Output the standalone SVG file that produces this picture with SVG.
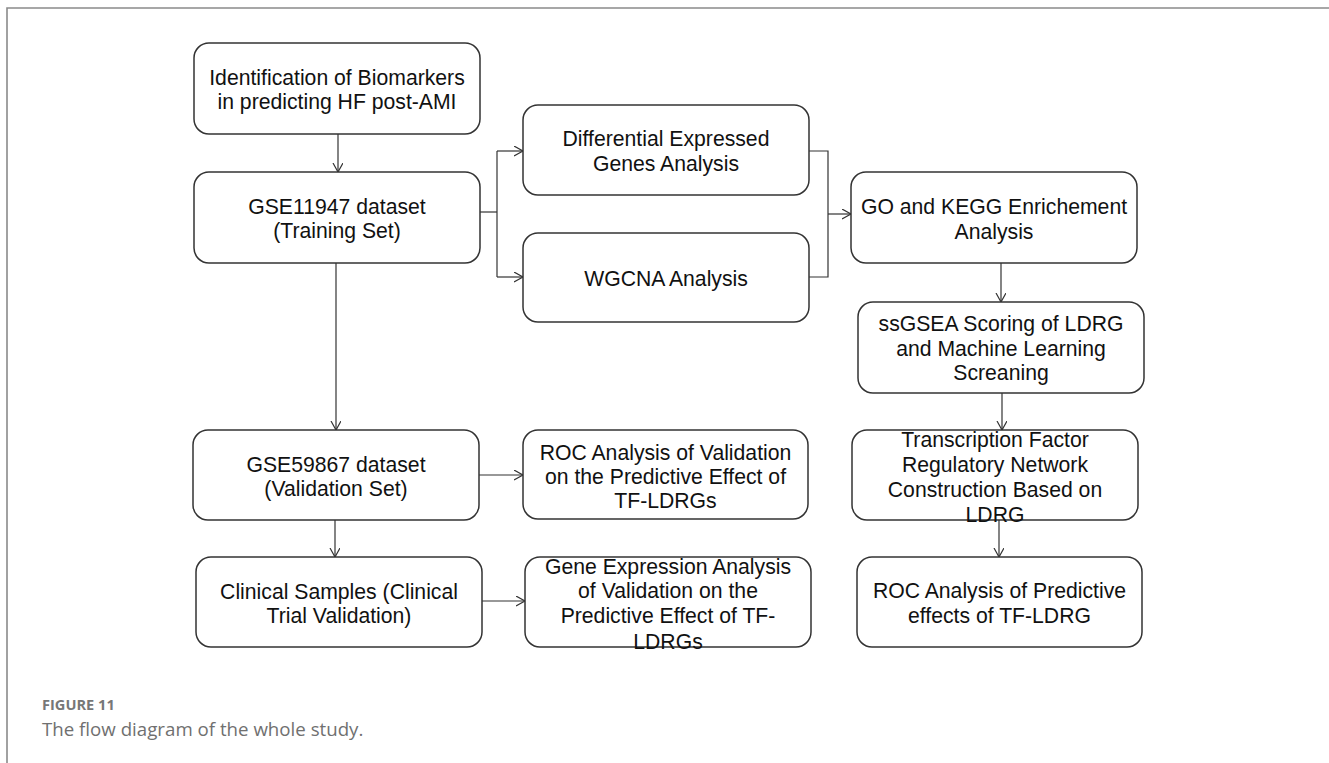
<svg xmlns="http://www.w3.org/2000/svg" width="1329" height="763" viewBox="0 0 1329 763">
  <defs>
    <marker id="arr" markerUnits="userSpaceOnUse" markerWidth="12" markerHeight="12" refX="9" refY="5" orient="auto" viewBox="0 0 12 12">
      <path d="M0,0 L9,5 L0,10" fill="none" stroke="#333" stroke-width="1.2"/>
    </marker>
  </defs>
  <style>
    .box { fill: #fff; stroke: #333; stroke-width: 1.5; }
    .t { font-family: "Liberation Sans", Arial, sans-serif; font-size: 21.2px; fill: #111; text-anchor: middle; }
    .c { fill: none; stroke: #333; stroke-width: 1.2; }
    .frame { stroke: #8a8a8a; stroke-width: 1.6; fill: none; }
    .figlab { font-family: "Open Sans", "Liberation Sans", sans-serif; font-size: 14.6px; font-weight: bold; fill: #777; }
    .cap { font-family: "Open Sans", "Liberation Sans", sans-serif; font-size: 18.7px; fill: #707070; }
  </style>
  <rect width="1329" height="763" fill="#fff"/>
  <path class="frame" d="M7,763 V8 H1329"/>

  <g id="connectors">
    <line class="c" x1="338" y1="134" x2="338" y2="172" marker-end="url(#arr)"/>
    <path class="c" d="M480,212 H497"/>
    <path class="c" d="M497,151 V277"/>
    <line class="c" x1="497" y1="151" x2="523" y2="151" marker-end="url(#arr)"/>
    <line class="c" x1="497" y1="277" x2="523" y2="277" marker-end="url(#arr)"/>
    <path class="c" d="M809,151 H828 V277 H809"/>
    <line class="c" x1="828" y1="214" x2="851" y2="214" marker-end="url(#arr)"/>
    <line class="c" x1="1001" y1="263" x2="1001" y2="302" marker-end="url(#arr)"/>
    <line class="c" x1="1002" y1="393" x2="1002" y2="430" marker-end="url(#arr)"/>
    <line class="c" x1="999" y1="520" x2="999" y2="557" marker-end="url(#arr)"/>
    <line class="c" x1="336" y1="263" x2="336" y2="430" marker-end="url(#arr)"/>
    <line class="c" x1="479" y1="475" x2="523" y2="475" marker-end="url(#arr)"/>
    <line class="c" x1="335" y1="520" x2="335" y2="557" marker-end="url(#arr)"/>
    <line class="c" x1="482" y1="601" x2="525" y2="601" marker-end="url(#arr)"/>
  </g>

  <g id="nodeA">
    <rect class="box" x="194" y="43" width="286" height="91" rx="15"/>
    <text class="t" x="337" y="84.5">Identification of Biomarkers</text>
    <text class="t" x="337" y="108.5">in predicting HF post-AMI</text>
  </g>
  <g id="nodeB">
    <rect class="box" x="194" y="172" width="286" height="91" rx="15"/>
    <text class="t" x="337" y="214">GSE11947 dataset</text>
    <text class="t" x="337" y="238">(Training Set)</text>
  </g>
  <g id="nodeC">
    <rect class="box" x="523" y="105" width="286" height="90" rx="15"/>
    <text class="t" x="666" y="146">Differential Expressed</text>
    <text class="t" x="666" y="170.5">Genes Analysis</text>
  </g>
  <g id="nodeD">
    <rect class="box" x="523" y="233" width="286" height="89" rx="15"/>
    <text class="t" x="666" y="285.5">WGCNA Analysis</text>
  </g>
  <g id="nodeE">
    <rect class="box" x="851" y="172" width="286" height="91" rx="15"/>
    <text class="t" x="994" y="214">GO and KEGG Enrichement</text>
    <text class="t" x="994" y="238.5">Analysis</text>
  </g>
  <g id="nodeF">
    <rect class="box" x="858" y="302" width="286" height="91" rx="15"/>
    <text class="t" x="1001" y="331">ssGSEA Scoring of LDRG</text>
    <text class="t" x="1001" y="355.5">and Machine Learning</text>
    <text class="t" x="1001" y="380">Screaning</text>
  </g>
  <g id="nodeG">
    <rect class="box" x="852" y="430" width="286" height="90" rx="15"/>
    <text class="t" x="995" y="447">Transcription Factor</text>
    <text class="t" x="995" y="471.5">Regulatory Network</text>
    <text class="t" x="995" y="496.5">Construction Based on</text>
    <text class="t" x="995" y="521.5">LDRG</text>
  </g>
  <g id="nodeH">
    <rect class="box" x="857" y="557" width="285" height="90" rx="15"/>
    <text class="t" x="999.5" y="598">ROC Analysis of Predictive</text>
    <text class="t" x="999.5" y="622.5">effects of TF-LDRG</text>
  </g>
  <g id="nodeI">
    <rect class="box" x="193" y="430" width="286" height="90" rx="15"/>
    <text class="t" x="336" y="471.5">GSE59867 dataset</text>
    <text class="t" x="336" y="496">(Validation Set)</text>
  </g>
  <g id="nodeJ">
    <rect class="box" x="523" y="430" width="285" height="89" rx="15"/>
    <text class="t" x="665.5" y="459.5">ROC Analysis of Validation</text>
    <text class="t" x="665.5" y="483.5">on the Predictive Effect of</text>
    <text class="t" x="665.5" y="507.5">TF-LDRGs</text>
  </g>
  <g id="nodeK">
    <rect class="box" x="196" y="557" width="286" height="90" rx="15"/>
    <text class="t" x="339" y="598.5">Clinical Samples (Clinical</text>
    <text class="t" x="339" y="623">Trial Validation)</text>
  </g>
  <g id="nodeL">
    <rect class="box" x="525" y="557" width="286" height="90" rx="15"/>
    <text class="t" x="668" y="573.5">Gene Expression Analysis</text>
    <text class="t" x="668" y="598">of Validation on the</text>
    <text class="t" x="668" y="623">Predictive Effect of TF-</text>
    <text class="t" x="668" y="648.5">LDRGs</text>
  </g>

  <text class="figlab" x="42" y="710">FIGURE 11</text>
  <text class="cap" x="42" y="736">The flow diagram of the whole study.</text>
</svg>
